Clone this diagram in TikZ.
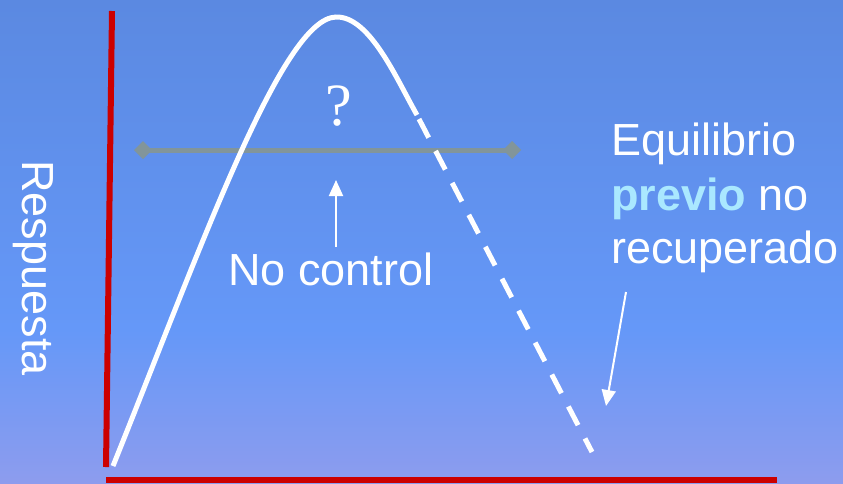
\documentclass[tikz,border=0pt]{standalone}
\usepackage{fontspec}
\setmainfont{Liberation Sans}
\newfontfamily\qserif{Liberation Serif}
\usetikzlibrary{arrows.meta}
\definecolor{bgtop}{RGB}{91,137,225}
\definecolor{bgmid}{RGB}{101,152,248}
\definecolor{bgbot}{RGB}{141,156,238}
\definecolor{axisred}{RGB}{204,0,0}
\definecolor{bargray}{RGB}{130,149,154}
\definecolor{lightcyan}{RGB}{170,232,255}
\tikzset{
  lbl/.style={text=white,font=\fontsize{45}{54}\selectfont,inner sep=0pt},
  axis/.style={draw=axisred,line width=6pt},
  curve/.style={draw=white,line width=5pt},
  thinarrow/.style={draw=white,line width=2pt,-{Triangle[width=14pt,length=16pt]}},
}
\begin{document}
\begin{tikzpicture}[x=1pt,y=-1pt]
\useasboundingbox (0,0) rectangle (843,483);
\shade[top color=bgtop,bottom color=bgmid] (0,0) rectangle (843,330);
\shade[top color=bgmid,bottom color=bgbot] (0,330) rectangle (843,483.5);
% axes
\coordinate (ytop) at (112,11);
\coordinate (ybot) at (106,467);
\coordinate (xl) at (106,480);
\coordinate (xr) at (777,480);
\draw[axis] (ytop) -- (ybot);
\draw[axis] (xl) -- (xr);
% gray bar
\coordinate (bl) at (143,150);
\coordinate (br) at (512,150);
\draw[bargray,line width=5pt] (bl) -- (br);
\fill[bargray] (bl) ++(-9,0) -- ++(9,-9) -- ++(9,9) -- ++(-9,9) -- cycle;
\fill[bargray] (br) ++(-9,0) -- ++(9,-9) -- ++(9,9) -- ++(-9,9) -- cycle;
% curve
\coordinate (c0) at (113,466);
\coordinate (peak) at (336,17);
\coordinate (c1) at (417,115);
\coordinate (c2) at (592,452);
\draw[curve] (c0) .. controls (200,250) and (282,18) .. (peak)
  .. controls (370,16) and (397,80) .. (c1);
\draw[curve,dash pattern=on 21pt off 15pt] (c1) ++(2,4) -- (c2);
% labels
\node[font=\qserif\fontsize{60}{64}\selectfont,text=white,inner sep=0pt,anchor=base] (q) at (339,125) {?};
\node[lbl,anchor=base] (noc) at (331,285) {No control};
\coordinate (nocs) at (336,247);
\coordinate (noce) at (336,180);
\draw[thinarrow] (nocs) -- (noce);
\node[lbl,anchor=base west] (eq1) at (611,155) {Equilibrio};
\node[lbl,anchor=base west] (eq2) at (611,210) {\textcolor{lightcyan}{\bfseries previo} no};
\node[lbl,anchor=base west] (eq3) at (611,263) {recuperado};
\coordinate (eqs) at (626,292);
\coordinate (eqe) at (606,406);
\draw[thinarrow] (eqs) -- (eqe);
\node[lbl,rotate=-90] (resp) at (33,268) {Respuesta};
\end{tikzpicture}
\end{document}
